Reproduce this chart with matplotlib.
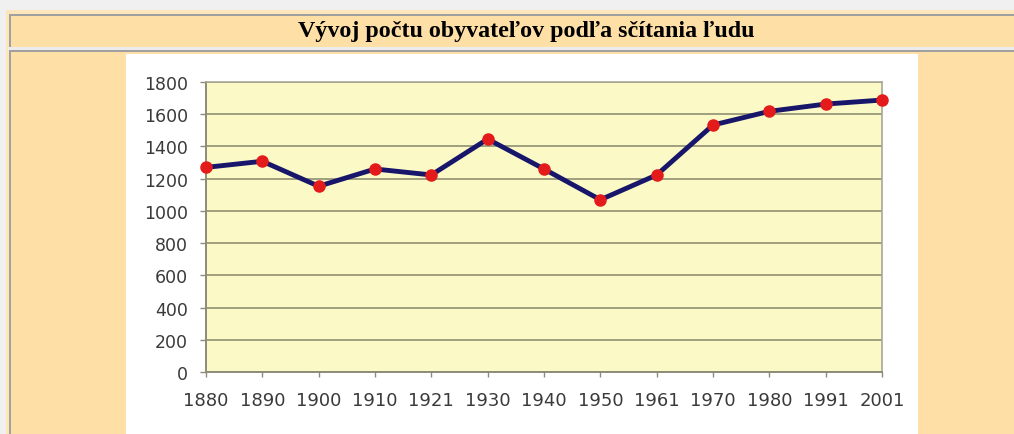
import matplotlib
matplotlib.use("Agg")
import matplotlib.pyplot as plt
from matplotlib.patches import Rectangle

years = ["1880", "1890", "1900", "1910", "1921", "1930", "1940",
         "1950", "1961", "1970", "1980", "1991", "2001"]
population = [1270, 1308, 1153, 1260, 1223, 1446, 1260,
              1069, 1223, 1533, 1618, 1663, 1688]
y_ticks = [0, 200, 400, 600, 800, 1000, 1200, 1400, 1600, 1800]
title = "Vývoj počtu obyvateľov podľa sčítania ľudu"

plt.rcParams["font.family"] = ["DejaVu Sans"]

W, H = 1014, 435
fig = plt.figure(figsize=(W / 100, H / 100), dpi=100)
fig.patch.set_facecolor("#f0f0f0")


def px_rect(x0, y0, x1, y1, color, z=0):
    fig.patches.append(Rectangle((x0 / W, 1 - y1 / H), (x1 - x0) / W, (y1 - y0) / H,
                                 transform=fig.transFigure, facecolor=color,
                                 edgecolor="none", zorder=z))


orange = "#fedfa6"
# outer table
px_rect(6, 11, W, H, "#fde6bb", 0)
# header cell
px_rect(9, 15, W, 48, orange, 1)
px_rect(9, 15, W, 17, "#a0a0a0", 2)
px_rect(9, 15, 11, 48, "#a0a0a0", 2)
# gap between cells
px_rect(8, 48, W, 51, "#ececec", 1)
# content cell
px_rect(9, 51, W, H, orange, 1)
px_rect(9, 51, W, 53, "#a0a0a0", 2)
px_rect(9, 51, 11, H, "#a0a0a0", 2)
# white chart image
px_rect(126, 55, 918, H, "#ffffff", 3)

fig.text(526 / W, 1 - 32 / H, title, ha="center", va="center",
         fontsize=17.3, fontweight="bold", family=["Liberation Serif"], color="#000000")

ax = fig.add_axes([206 / W, 1 - 373 / H, 676 / W, 290 / H])
ax.set_zorder(5)
ax.set_facecolor("#fbfac6")
x = list(range(len(years)))
ax.plot(x, population, color="#17166b", linewidth=3.5, zorder=3, clip_on=False,
        solid_capstyle="round")
ax.plot(x, population, linestyle="none", marker="o", markersize=8,
        markerfacecolor="#e41b1b", markeredgecolor="#e41b1b", zorder=4, clip_on=False)

ax.set_xlim(0, len(years) - 1)
ax.set_ylim(0, 1800)
ax.set_yticks(y_ticks)
ax.set_yticklabels([str(v) for v in y_ticks])
ax.set_xticks(x)
ax.set_xticklabels(years)
ax.yaxis.grid(True, color="#86866a", linewidth=1.1)
ax.set_axisbelow(True)

for side in ["left", "bottom"]:
    ax.spines[side].set_color("#8c8c78")
    ax.spines[side].set_linewidth(1.4)
for side in ["top", "right"]:
    ax.spines[side].set_color("#a8a898")
    ax.spines[side].set_linewidth(1.2)

ax.tick_params(axis="y", length=4.5, width=1, color="#8c8c78", pad=8.5,
               labelsize=12.5, labelcolor="#3a3a3a")
ax.tick_params(axis="x", length=3.5, width=1, color="#8c8c78", pad=10,
               labelsize=13, labelcolor="#3a3a3a")

fig.savefig("out.png", dpi=100, facecolor=fig.get_facecolor())
